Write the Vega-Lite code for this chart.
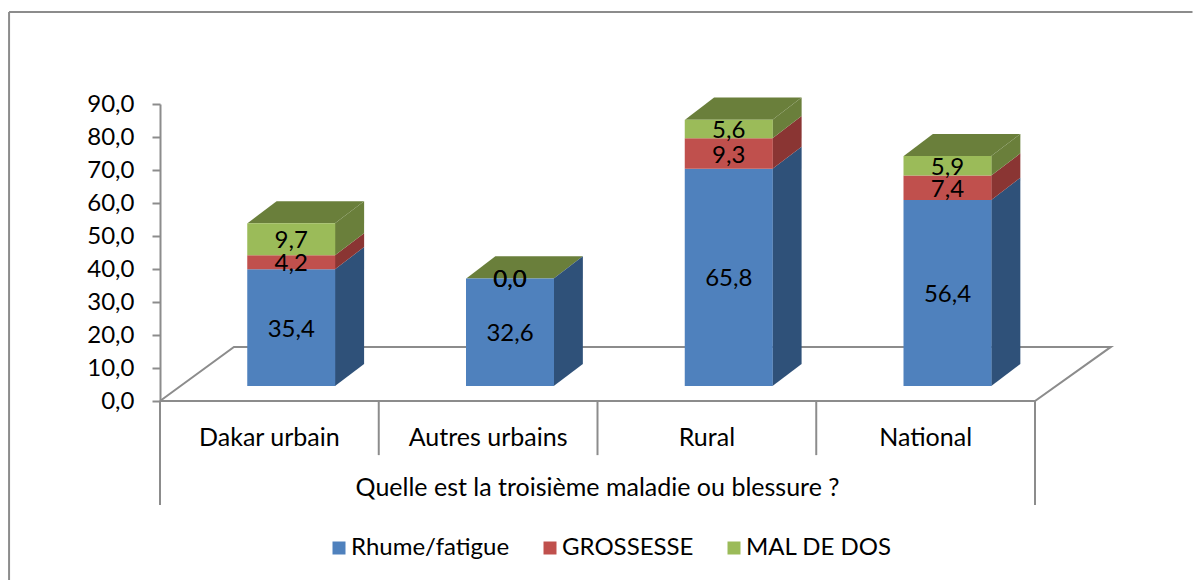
{
"$schema":"https://vega.github.io/schema/vega-lite/v6.json",
"width":1193,"height":580,"padding":0,"autosize":{"type":"none"},"background":"white",
"config":{"view":{"stroke":null},"font":"Lato","text":{"font":"Lato"}},
"datasets":{
"bars":[
{"category":"Dakar urbain","series":"Rhume/fatigue","rank":1,"value":35.4,"label":"35,4","pos":0.6,"mid":17.7},
{"category":"Dakar urbain","series":"GROSSESSE","rank":2,"value":4.2,"label":"4,2","pos":0.6,"mid":37.5},
{"category":"Dakar urbain","series":"MAL DE DOS","rank":3,"value":9.7,"label":"9,7","pos":0.6,"mid":44.45},
{"category":"Autres urbains","series":"Rhume/fatigue","rank":1,"value":32.6,"label":"32,6","pos":1.6,"mid":16.3},
{"category":"Autres urbains","series":"GROSSESSE","rank":2,"value":0.0,"label":"0,0","pos":1.6,"mid":32.6},
{"category":"Autres urbains","series":"MAL DE DOS","rank":3,"value":0.0,"label":"0,0","pos":1.6,"mid":32.6},
{"category":"Rural","series":"Rhume/fatigue","rank":1,"value":65.8,"label":"65,8","pos":2.6,"mid":32.9},
{"category":"Rural","series":"GROSSESSE","rank":2,"value":9.3,"label":"9,3","pos":2.6,"mid":70.45},
{"category":"Rural","series":"MAL DE DOS","rank":3,"value":5.6,"label":"5,6","pos":2.6,"mid":77.9},
{"category":"National","series":"Rhume/fatigue","rank":1,"value":56.4,"label":"56,4","pos":3.6,"mid":28.2},
{"category":"National","series":"GROSSESSE","rank":2,"value":7.4,"label":"7,4","pos":3.6,"mid":60.1},
{"category":"National","series":"MAL DE DOS","rank":3,"value":5.9,"label":"5,9","pos":3.6,"mid":66.75}
],
"sides":[
{"bar":"D1","series":"Rhume/fatigue","x":0.8,"low":0,"high":35.4},{"bar":"D1","series":"Rhume/fatigue","x":0.933,"low":6.7,"high":42.1},
{"bar":"D2","series":"GROSSESSE","x":0.8,"low":35.4,"high":39.6},{"bar":"D2","series":"GROSSESSE","x":0.933,"low":42.1,"high":46.3},
{"bar":"D3","series":"MAL DE DOS","x":0.8,"low":39.6,"high":49.3},{"bar":"D3","series":"MAL DE DOS","x":0.933,"low":46.3,"high":56.0},
{"bar":"A1","series":"Rhume/fatigue","x":1.8,"low":0,"high":32.6},{"bar":"A1","series":"Rhume/fatigue","x":1.933,"low":6.7,"high":39.3},
{"bar":"R1","series":"Rhume/fatigue","x":2.8,"low":0,"high":65.8},{"bar":"R1","series":"Rhume/fatigue","x":2.933,"low":6.7,"high":72.5},
{"bar":"R2","series":"GROSSESSE","x":2.8,"low":65.8,"high":75.1},{"bar":"R2","series":"GROSSESSE","x":2.933,"low":72.5,"high":81.8},
{"bar":"R3","series":"MAL DE DOS","x":2.8,"low":75.1,"high":80.7},{"bar":"R3","series":"MAL DE DOS","x":2.933,"low":81.8,"high":87.4},
{"bar":"N1","series":"Rhume/fatigue","x":3.8,"low":0,"high":56.4},{"bar":"N1","series":"Rhume/fatigue","x":3.933,"low":6.7,"high":63.1},
{"bar":"N2","series":"GROSSESSE","x":3.8,"low":56.4,"high":63.8},{"bar":"N2","series":"GROSSESSE","x":3.933,"low":63.1,"high":70.5},
{"bar":"N3","series":"MAL DE DOS","x":3.8,"low":63.8,"high":69.7},{"bar":"N3","series":"MAL DE DOS","x":3.933,"low":70.5,"high":76.4}
],
"tops":[
{"bar":"D","x":0.4,"low":49.3,"high":49.3},{"bar":"D","x":0.533,"low":49.3,"high":56.0},{"bar":"D","x":0.8,"low":49.3,"high":56.0},{"bar":"D","x":0.933,"low":56.0,"high":56.0},
{"bar":"A","x":1.4,"low":32.6,"high":32.6},{"bar":"A","x":1.533,"low":32.6,"high":39.3},{"bar":"A","x":1.8,"low":32.6,"high":39.3},{"bar":"A","x":1.933,"low":39.3,"high":39.3},
{"bar":"R","x":2.4,"low":80.7,"high":80.7},{"bar":"R","x":2.533,"low":80.7,"high":87.4},{"bar":"R","x":2.8,"low":80.7,"high":87.4},{"bar":"R","x":2.933,"low":87.4,"high":87.4},
{"bar":"N","x":3.4,"low":69.7,"high":69.7},{"bar":"N","x":3.533,"low":69.7,"high":76.4},{"bar":"N","x":3.8,"low":69.7,"high":76.4},{"bar":"N","x":3.933,"low":76.4,"high":76.4}
],
"floor":[
{"order":1,"x":0,"y":0},{"order":2,"x":0.338,"y":16.4},{"order":3,"x":4.347,"y":16.4},{"order":4,"x":4,"y":0},{"order":5,"x":0,"y":0}
],
"dividers":[
{"x":0,"low":0,"high":-31.5},{"x":1,"low":0,"high":-16.4},{"x":2,"low":0,"high":-16.4},{"x":3,"low":0,"high":-16.4},{"x":4,"low":0,"high":-31.5},
{"x":-0.69,"low":-54.3,"high":117.9}
],
"frameTop":[{"x":-0.69,"x2":4.72,"y":117.9}],
"axisLabels":[
{"text":"Dakar urbain","x":0.5,"y":-11.2},{"text":"Autres urbains","x":1.5,"y":-11.2},{"text":"Rural","x":2.5,"y":-11.2},{"text":"National","x":3.5,"y":-11.2},
{"text":"Quelle est la troisième maladie ou blessure ?","x":2,"y":-26.3}
]
},
"layer":[
{"data":{"name":"floor"},"mark":{"type":"line","color":"#8c8c8c","strokeWidth":2},
 "encoding":{"x":{"field":"x","type":"quantitative","scale":{"domain":[0,4],"range":[160,1035],"nice":false,"zero":false,"padding":0},"axis":null},
 "y":{"field":"y","type":"quantitative","scale":{"domain":[0,90],"range":[401,104],"nice":false,"zero":false},
   "axis":{"title":null,"orient":"left","offset":-160,"values":[0,10,20,30,40,50,60,70,80,90],"grid":false,"domainColor":"#8c8c8c","domainWidth":2,"tickColor":"#8c8c8c","tickWidth":2,"tickSize":8,"labelFont":"Lato","labelFontSize":24,"labelColor":"#000000","labelPadding":18,"labelExpr":"replace(format(datum.value,'.1f'),'.',',')"}},
 "order":{"field":"order","type":"quantitative"}}},
{"data":{"name":"dividers"},"mark":{"type":"rule","color":"#8c8c8c","strokeWidth":2},
 "encoding":{"x":{"field":"x","type":"quantitative","scale":{"domain":[0,4],"range":[160,1035],"nice":false,"zero":false,"padding":0},"axis":null},"y":{"field":"low","type":"quantitative"},"y2":{"field":"high"}}},
{"data":{"name":"frameTop"},"mark":{"type":"rule","color":"#8c8c8c","strokeWidth":2},
 "encoding":{"x":{"field":"x","type":"quantitative","scale":{"domain":[0,4],"range":[160,1035],"nice":false,"zero":false,"padding":0},"axis":null},"x2":{"field":"x2"},"y":{"field":"y","type":"quantitative"}}},
{"data":{"name":"tops"},"mark":{"type":"area","color":"#6a7f3b","yOffset":-15,"y2Offset":-15,"interpolate":"linear"},
 "encoding":{"detail":{"field":"bar"},"x":{"field":"x","type":"quantitative","scale":{"domain":[0,4],"range":[160,1035],"nice":false,"zero":false,"padding":0},"axis":null},"y":{"field":"low","type":"quantitative"},"y2":{"field":"high"}}},
{"layer":[
 {"data":{"name":"sides"},"mark":{"type":"area","yOffset":-15,"y2Offset":-15},
  "encoding":{"detail":{"field":"bar"},"x":{"field":"x","type":"quantitative","scale":{"domain":[0,4],"range":[160,1035],"nice":false,"zero":false,"padding":0},"axis":null},"y":{"field":"low","type":"quantitative"},"y2":{"field":"high"},
  "color":{"field":"series","type":"nominal","legend":null,"scale":{"domain":["Rhume/fatigue","GROSSESSE","MAL DE DOS"],"range":["#2f5179","#8a3533","#6a7f3b"]}}}},
 {"data":{"name":"bars"},"mark":{"type":"bar","size":88,"yOffset":-15,"y2Offset":-15},
  "encoding":{"x":{"field":"pos","type":"quantitative","scale":{"domain":[0,4],"range":[160,1035],"nice":false,"zero":false,"padding":0},"axis":null},"y":{"field":"value","type":"quantitative","stack":"zero"},
  "order":{"field":"rank","type":"quantitative"},
  "color":{"field":"series","type":"nominal","sort":null,"scale":{"domain":["Rhume/fatigue","GROSSESSE","MAL DE DOS"],"range":["#4f81bd","#c0504d","#9bbb59"]},
   "legend":{"title":null,"orient":"none","legendX":327,"legendY":536,"direction":"horizontal","columns":3,"symbolType":"square","symbolSize":169,"symbolStrokeWidth":0,"labelFont":"Lato","labelFontSize":24,"labelColor":"#000000","columnPadding":28,"labelOffset":0}}}}
],"resolve":{"scale":{"color":"independent"}}},
{"data":{"name":"bars"},"mark":{"type":"text","font":"Lato","fontSize":24,"color":"#000000","yOffset":-13,"baseline":"middle"},
 "encoding":{"x":{"field":"pos","type":"quantitative","scale":{"domain":[0,4],"range":[160,1035],"nice":false,"zero":false,"padding":0},"axis":null},"y":{"field":"mid","type":"quantitative"},"text":{"field":"label"}}},
{"data":{"name":"axisLabels"},"mark":{"type":"text","font":"Lato","fontSize":25,"color":"#000000","baseline":"middle"},
 "encoding":{"x":{"field":"x","type":"quantitative","scale":{"domain":[0,4],"range":[160,1035],"nice":false,"zero":false,"padding":0},"axis":null},"y":{"field":"y","type":"quantitative"},"text":{"field":"text"}}}
]
}
